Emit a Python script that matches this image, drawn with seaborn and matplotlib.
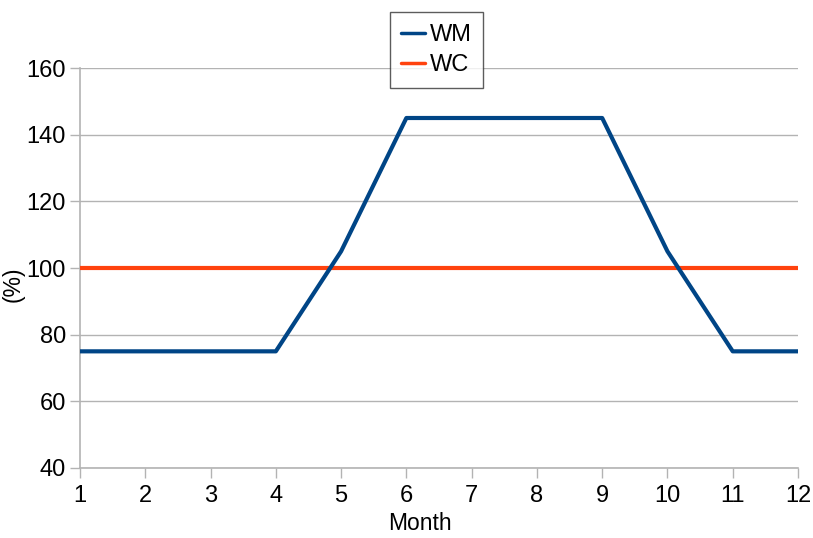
import matplotlib
matplotlib.use("Agg")
import matplotlib.pyplot as plt
import pandas as pd
import seaborn as sns

months = [1, 2, 3, 4, 5, 6, 7, 8, 9, 10, 11, 12]
wm = [75, 75, 75, 75, 105, 145, 145, 145, 145, 105, 75, 75]
wc = [100, 100, 100, 100, 100, 100, 100, 100, 100, 100, 100, 100]

df = pd.DataFrame({"Month": months * 2,
                   "value": wm + wc,
                   "series": ["WM"] * 12 + ["WC"] * 12})

sns.set_style("white")
plt.rcParams["font.family"] = ["Liberation Sans", "DejaVu Sans"]
plt.rcParams["text.color"] = "black"
plt.rcParams["axes.labelcolor"] = "black"
plt.rcParams["xtick.color"] = "black"
plt.rcParams["ytick.color"] = "black"

fig = plt.figure(figsize=(8.13, 5.38), dpi=100)
ax = fig.add_axes([80 / 813, 1 - 468 / 538, 718 / 813, 400 / 538])

grey = "#b3b3b3"
# orange first so the blue line sits on top of it
sns.lineplot(data=df[df["series"] == "WC"], x="Month", y="value", color="#ff420e",
             linewidth=3, ax=ax, label="WC", zorder=3)
sns.lineplot(data=df[df["series"] == "WM"], x="Month", y="value", color="#004586",
             linewidth=3, ax=ax, label="WM", zorder=4)

ax.set_xlim(1, 12)
ax.set_ylim(40, 160)
ax.set_xticks(months)
ax.set_yticks(range(40, 161, 20))
ax.yaxis.grid(True, color=grey, linewidth=1)
ax.set_axisbelow(True)
for side in ["top", "right"]:
    ax.spines[side].set_visible(False)
for side in ["left", "bottom"]:
    ax.spines[side].set_color(grey)
    ax.spines[side].set_linewidth(1.2)
ax.tick_params(axis="both", which="both", direction="out", length=7, width=1,
               color=grey, labelcolor="black", labelsize=17, bottom=True, left=True)
ax.tick_params(axis="x", pad=5)
ax.tick_params(axis="y", pad=3)
ax.set_xlabel("Month", fontsize=16.5)
ax.xaxis.set_label_coords(0.4735, -0.11)
ax.set_ylabel("(%)", fontsize=16.5)
ax.yaxis.set_label_coords(-0.077, 0.46)

handles, labels = ax.get_legend_handles_labels()
ax.get_legend().remove()
order = [labels.index("WM"), labels.index("WC")]
leg = fig.legend([handles[i] for i in order], [labels[i] for i in order],
                 loc="upper center", bbox_to_anchor=(436.5 / 813, 1 - 12 / 538),
                 fontsize=17, frameon=True, fancybox=False, handlelength=1.0,
                 handletextpad=0.2, borderpad=0.5, labelspacing=0.35,
                 borderaxespad=0)
leg.get_frame().set_edgecolor("#333333")
leg.get_frame().set_linewidth(1)
for line in leg.get_lines():
    line.set_linewidth(2.5)

fig.savefig("out.png", dpi=100)
